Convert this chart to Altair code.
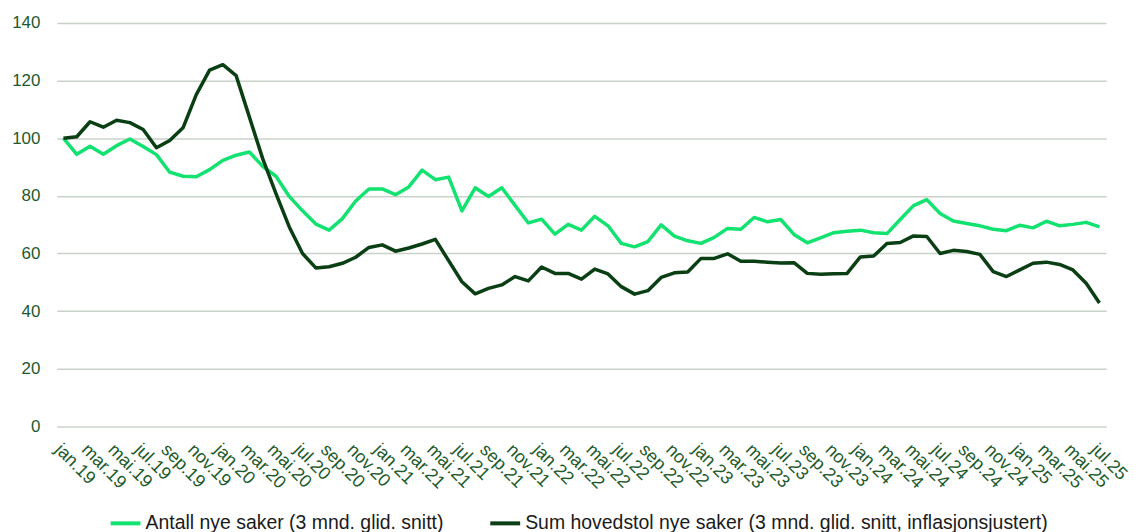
import altair as alt
import pandas as pd

month_names = ["jan", "feb", "mar", "apr", "mai", "jun", "jul", "aug", "sep", "okt", "nov", "des"]
years = ["19", "20", "21", "22", "23", "24", "25"]
months = [f"{m}.{y}" for y in years for m in month_names][:79]  # jan.19 .. jul.25

series_names = [
    "Antall nye saker (3 mnd. glid. snitt)",
    "Sum hovedstol nye saker (3 mnd. glid. snitt, inflasjonsjustert)",
]

antall = [
    100, 94.4, 97.2, 94.4, 97.4, 99.7, 97.1, 94.3, 88.2, 86.8, 86.6, 89.1,
    92.3, 94.1, 95.2, 90.2, 86.8, 79.8, 74.8, 70.2, 68.1, 72.1, 78.2, 82.4,
    82.4, 80.4, 83.1, 88.9, 85.6, 86.5, 74.8, 82.8, 79.8, 82.8, 76.7, 70.6,
    71.9, 66.7, 70.1, 68.1, 72.9, 69.6, 63.5, 62.3, 64.1, 69.9, 66.0, 64.4,
    63.5, 65.6, 68.7, 68.4, 72.5, 71.0, 71.8, 66.6, 63.7, 65.4, 67.2, 67.7,
    68.1, 67.2, 66.9, 71.8, 76.6, 78.7, 73.9, 71.3, 70.4, 69.6, 68.4, 67.9,
    69.8, 68.9, 71.2, 69.6, 70.1, 70.8, 69.2,
]

hovedstol = [
    100, 100.5, 105.7, 103.8, 106.2, 105.4, 103.0, 96.7, 99.2, 103.6, 115.1, 123.6,
    125.5, 121.7, 107.3, 92.9, 80.8, 69.2, 60.0, 55.0, 55.4, 56.6, 58.7, 62.1,
    63.0, 60.8, 61.9, 63.3, 64.9, 57.5, 50.2, 46.0, 47.9, 49.1, 52.0, 50.5,
    55.3, 53.1, 53.1, 51.1, 54.6, 52.9, 48.5, 45.9, 47.1, 51.7, 53.3, 53.6,
    58.3, 58.3, 59.9, 57.3, 57.3, 57.0, 56.7, 56.8, 53.1, 52.8, 53.0, 53.1,
    58.8, 59.1, 63.5, 63.8, 66.1, 65.9, 60.0, 61.1, 60.7, 59.7, 53.7, 52.0,
    54.3, 56.6, 57.0, 56.2, 54.3, 49.7, 42.8,
]

y_ticks = [0, 20, 40, 60, 80, 100, 120, 140]
x_label_values = months[::2]

rows = []
for i, m in enumerate(months):
    rows.append({"month": m, "series": series_names[0], "value": antall[i], "order": 0})
    rows.append({"month": m, "series": series_names[1], "value": hovedstol[i], "order": 1})
df = pd.DataFrame(rows)

text_color = "#1c5a2c"

chart = (
    alt.Chart(df)
    .mark_line(strokeWidth=3.5, strokeJoin="round")
    .encode(
        x=alt.X(
            "month:O",
            sort=months,
            scale=alt.Scale(type="point", padding=0.5),
            axis=alt.Axis(
                title=None,
                values=x_label_values,
                labelAngle=45,
                labelAlign="left",
                labelBaseline="top",
                labelOverlap=False,
                labelFontSize=18,
                labelColor=text_color,
                labelPadding=14,
                ticks=False,
                domain=False,
                grid=False,
            ),
        ),
        y=alt.Y(
            "value:Q",
            scale=alt.Scale(domain=[0, 140], nice=False),
            axis=alt.Axis(
                title=None,
                values=y_ticks,
                labelFontSize=17,
                labelColor=text_color,
                labelPadding=17,
                ticks=False,
                domain=False,
                grid=True,
                gridColor="#c8d2c8",
                gridWidth=1.5,
            ),
        ),
        color=alt.Color(
            "series:N",
            scale=alt.Scale(domain=series_names, range=["#12e26f", "#0a3f14"]),
            legend=alt.Legend(
                title=None,
                orient="none",
                legendX=52,
                legendY=485,
                direction="horizontal",
                symbolType="stroke",
                symbolStrokeWidth=4,
                symbolSize=900,
                labelFontSize=19.5,
                labelColor="#1a1a1a",
                labelLimit=2000,
                columnPadding=38,
                labelOffset=3,
            ),
        ),
        detail="order:O",
    )
    .properties(
        width=1053,
        height=405,
        autosize=alt.AutoSizeParams(type="none"),
        padding={"left": 49, "top": 14, "right": 25, "bottom": 108},
    )
    .configure(font="Liberation Sans")
    .configure_view(stroke=None)
)

chart.save("out.html", embed_options={"renderer": "svg", "actions": False})
